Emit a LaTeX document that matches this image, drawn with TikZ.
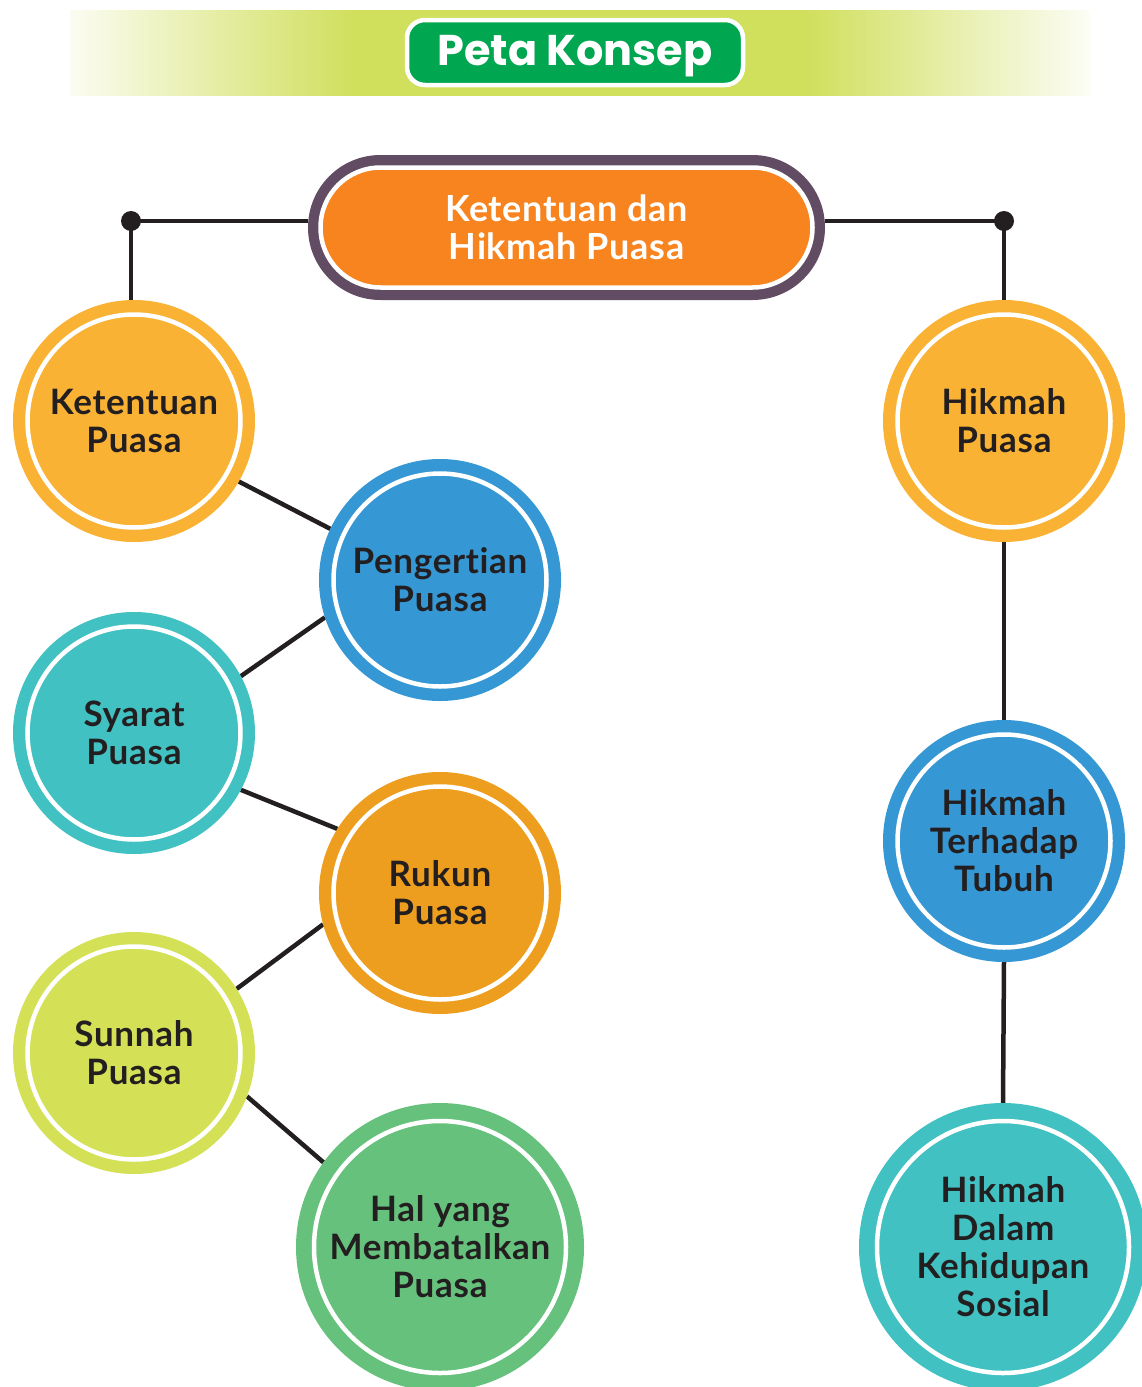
\documentclass[tikz,border=0pt]{standalone}
\usepackage{fontspec}
\setmainfont{Lato}[LetterSpace=2, Ligatures=NoCommon]
\newfontfamily\titlefont{Poppins}
\usetikzlibrary{shapes.misc,backgrounds}
\definecolor{cYel}{HTML}{F9B233}
\definecolor{cBlue}{HTML}{3597D3}
\definecolor{cTeal}{HTML}{41C1C2}
\definecolor{cOrg}{HTML}{EE9E1E}
\definecolor{cLime}{HTML}{D4E157}
\definecolor{cGrn}{HTML}{66C17C}
\definecolor{txt}{HTML}{231F20}
\definecolor{cPur}{HTML}{614C63}
\definecolor{cOrange}{HTML}{F7841F}
\definecolor{cTitle}{HTML}{00A650}
\definecolor{bandLime}{HTML}{D0DF5C}
\pgfdeclarehorizontalshading{bandshade}{100bp}{color(0bp)=(white); color(25bp)=(white!92!bandLime); color(39bp)=(bandLime); color(61bp)=(bandLime); color(75bp)=(white!94!bandLime); color(100bp)=(white)}
\tikzset{
  bub/.style={circle, inner sep=0pt, outer sep=0pt, fill=#1, text=txt, align=center,
    font=\bfseries\fontsize{35}{38}\selectfont},
  smallb/.style={minimum size=242pt, path picture={\draw[white, line width=4.5pt] (path picture bounding box.center) circle (106.5pt);}},
  bigb/.style={minimum size=288pt, path picture={\draw[white, line width=4.5pt] (path picture bounding box.center) circle (126pt);}},
  conn/.style={draw=txt, line width=4.5pt},
  dotmark/.style={fill=txt},
  titlebox/.style={rounded corners=18pt, fill=cTitle, draw=white, line width=4.5pt,
    minimum width=336pt, minimum height=65pt, inner sep=0pt, text=white,
    font=\titlefont\bfseries\fontsize{43}{44}\selectfont},
  pillout/.style={rounded rectangle, fill=cPur, minimum width=517pt, minimum height=145pt, inner sep=0pt, outer sep=0pt},
  pillin/.style={rounded rectangle, fill=cOrange, draw=white, line width=4.5pt, minimum width=492pt,
    minimum height=120pt, inner sep=0pt, text=white, align=center, font=\bfseries\fontsize{36}{38}\selectfont},
}
\begin{document}
\begin{tikzpicture}[x=1pt,y=-1pt]
\useasboundingbox (0,0) rectangle (1142,1387);
\clip (0,0) rectangle (1142,1387);
% banner
\shade[shading=bandshade] (70,10) rectangle (1090,95);
\node[titlebox] (title) at (575,52.5) {\raisebox{-3.5pt}[\height][\depth]{Peta Konsep}};
% main
\node[pillout] (main) at (566.5,227.5) {};
\node[pillin] (maintext) at (main.center) {Ketentuan dan\\Hikmah Puasa};
\coordinate (dotL) at (131,221);
\coordinate (dotR) at (1004,221);
% left column
\node[bub=cYel, smallb] (ket) at (134,421) {Ketentuan\\Puasa};
\node[bub=cBlue, smallb] (peng) at (440,580) {Pengertian\\Puasa};
\node[bub=cTeal, smallb] (syarat) at (134,733) {Syarat\\Puasa};
\node[bub=cOrg, smallb] (rukun) at (440,893) {Rukun\\Puasa};
\node[bub=cLime, smallb] (sunnah) at (134,1053) {Sunnah\\Puasa};
\node[bub=cGrn, bigb] (hal) at (440,1247) {Hal yang\\Membatalkan\\Puasa};
% right column
\node[bub=cYel, smallb] (hp) at (1004,421) {Hikmah\\Puasa};
\node[bub=cBlue, smallb] (ht) at (1004,841) {Hikmah\\Terhadap\\Tubuh};
\node[bub=cTeal, bigb] (hd) at (1003,1247) {Hikmah\\Dalam\\Kehidupan\\Sosial};
\begin{pgfonlayer}{background}
\draw[conn] (dotL) -- (dotL -| main.west);
\draw[conn] (dotR) -- (dotR -| main.east);
\draw[conn] (dotL) -- (dotL |- ket.north);
\draw[conn] (dotR) -- (dotR |- hp.north);
\draw[conn] (ket.-30.4) -- (peng.155.6);
\draw[conn] (syarat.28.5) -- (peng.198.7);
\draw[conn] (syarat.-28.5) -- (rukun.148.1);
\draw[conn] (rukun.195.8) -- (sunnah.32.2);
\draw[conn] (sunnah.-21.4) -- (hal.144.3);
\draw[conn] (hp.south) -- (ht.north);
\draw[conn] (ht.south) -- (hd.north);
\end{pgfonlayer}
\fill[dotmark] (dotL) circle (10);
\fill[dotmark] (dotR) circle (10);
\end{tikzpicture}
\end{document}
